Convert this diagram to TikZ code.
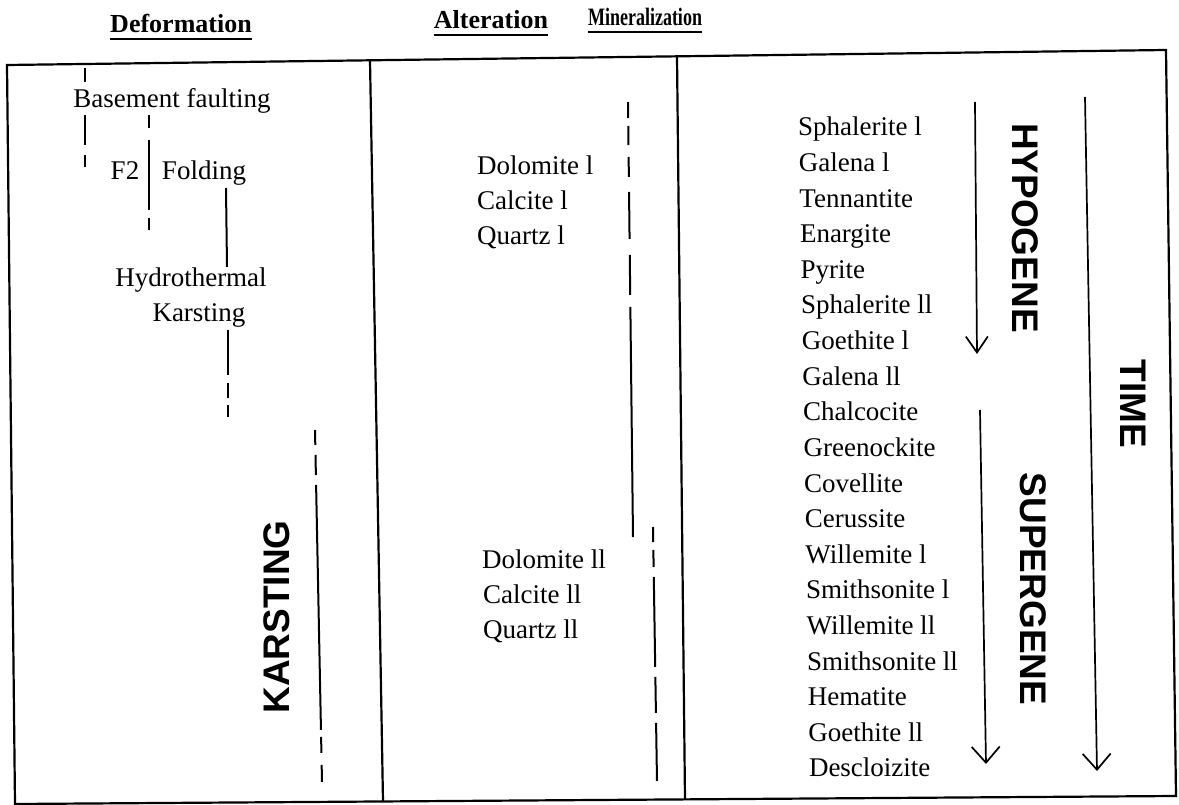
\documentclass[tikz,border=0pt]{standalone}
\usepackage{fontspec}
\setmainfont{Liberation Serif}
\newfontfamily\hv{Liberation Sans}
\usetikzlibrary{arrows.meta}
\begin{document}
\begin{tikzpicture}[x=1pt,y=-1pt,
  txt/.style={inner sep=0pt, font=\fontsize{27}{32}\selectfont, anchor=base},
  lst/.style={txt, anchor=base west},
  hdr/.style={inner sep=0pt, font=\bfseries\fontsize{26}{30}\selectfont, anchor=base},
  big/.style={inner sep=0pt, font=\hv\bfseries\fontsize{37}{40}\selectfont},
  frameline/.style={line width=2.2pt, line join=miter},
  bar/.style={line width=2pt},
  tarrow/.style={line width=1.7pt, -{Straight Barb[length=16pt,width=28pt]}},
  uline/.style={line width=1.6pt}
]
\useasboundingbox (0,0) rectangle (1179,805);

% headers
\node[hdr] (hdef) at (181,33) {Deformation};
\node[hdr] (halt) at (491,29) {Alteration};
\node[hdr, font=\bfseries\fontsize{25}{30}\selectfont] (hmin) at (645,26) {\scalebox{0.72}[1]{Mineralization}};
\foreach \h in {hdef,halt,hmin}
  \draw[uline] ([yshift=-6pt]\h.base west) -- ([yshift=-6pt]\h.base east);

% frame
\coordinate (TL) at (7,65);
\coordinate (TR) at (1166,50);
\coordinate (BR) at (1176,796);
\coordinate (BL) at (15,804);
\draw[frameline] (TL) -- (TR) -- (BR) -- (BL) -- cycle;
\coordinate (d1t) at (370,60.3);
\coordinate (d1b) at (383,801.5);
\coordinate (d2t) at (677,56.3);
\coordinate (d2b) at (685,799.4);
\draw[frameline] (d1t) -- (d1b);
\draw[frameline] (d2t) -- (d2b);

% Deformation column
\node[txt] (bf) at (172,108) {Basement faulting};
\node[txt] (f2) at (125,180) {F2};
\node[txt] (fold) at (204,180) {Folding};
\node[txt] (hyd) at (191,287) {Hydrothermal};
\node[txt] (kar) at (199,322) {Karsting};
\node[big, rotate=90] (KARST) at (277,617) {KARSTING};

\coordinate (a1) at (85,68);  \coordinate (a2) at (85,82);
\coordinate (a3) at (85,115); \coordinate (a4) at (85,167);
\draw[bar] (a1) -- (a2);
\draw[bar, dash pattern=on 30pt off 10pt on 12pt off 10pt] (a3) -- (a4);
\coordinate (b1) at (149,115); \coordinate (b2) at (149,230);
\draw[bar, dash pattern=on 13pt off 12pt on 70pt off 8pt on 12pt off 10pt] (b1) -- (b2);
\coordinate (c1) at (226,188); \coordinate (c2) at (227,267);
\draw[bar] (c1) -- (c2);
\coordinate (e1) at (228,330); \coordinate (e2) at (228,417);
\draw[bar, dash pattern=on 45pt off 8pt on 15pt off 7pt on 12pt off 10pt] (e1) -- (e2);
\coordinate (k1) at (315,430); \coordinate (k2) at (322,782);
\draw[bar, dash pattern=on 15pt off 10pt on 20pt off 10pt on 245pt off 7pt on 16pt off 12pt on 17pt off 10pt] (k1) -- (k2);

% Alteration column
\node[lst] (dol1) at (477,175) {Dolomite l};
\node[lst] (cal1) at (477,210) {Calcite l};
\node[lst] (qtz1) at (477,245) {Quartz l};
\node[lst] (dol2) at (482,568) {Dolomite ll};
\node[lst] (cal2) at (483,603) {Calcite ll};
\node[lst] (qtz2) at (483,638) {Quartz ll};

\coordinate (p1) at (628,102); \coordinate (p2) at (633,537);
\draw[bar, dash pattern=on 16pt off 8pt on 19pt off 12pt on 20pt off 15pt on 47pt off 16pt on 40pt off 12pt on 232pt off 10pt] (p1) -- (p2);
\coordinate (q1) at (653,527); \coordinate (q2) at (657,781);
\draw[bar, dash pattern=on 15pt off 8pt on 17pt off 10pt on 90pt off 10pt on 36pt off 10pt on 58pt off 10pt] (q1) -- (q2);

% Mineralization column
\foreach \t [count=\i from 0] in {Sphalerite l, Galena l, Tennantite, Enargite, Pyrite, Sphalerite ll, Goethite l, Galena ll, Chalcocite, Greenockite, Covellite, Cerussite, Willemite l, Smithsonite l, Willemite ll, Smithsonite ll, Hematite, Goethite ll, Descloizite}
  \node[lst] (m\i) at ({798+0.6*\i},{136+35.6*\i}) {\t};

\coordinate (h1) at (975,102); \coordinate (h2) at (977,354);
\draw[tarrow, -{Straight Barb[length=16pt,width=22pt]}] (h1) -- (h2);
\node[big, rotate=-90] (HYPO) at (1025,228) {HYPOGENE};

\coordinate (s1) at (980,410); \coordinate (s2) at (986,764);
\draw[tarrow] (s1) -- (s2);
\node[big, rotate=-90] (SUPER) at (1033,589) {SUPERGENE};

\coordinate (t1) at (1085,97); \coordinate (t2) at (1097,771);
\draw[tarrow] (t1) -- (t2);
\node[big, rotate=-90] (TIME) at (1133,404) {TIME};
\end{tikzpicture}
\end{document}
